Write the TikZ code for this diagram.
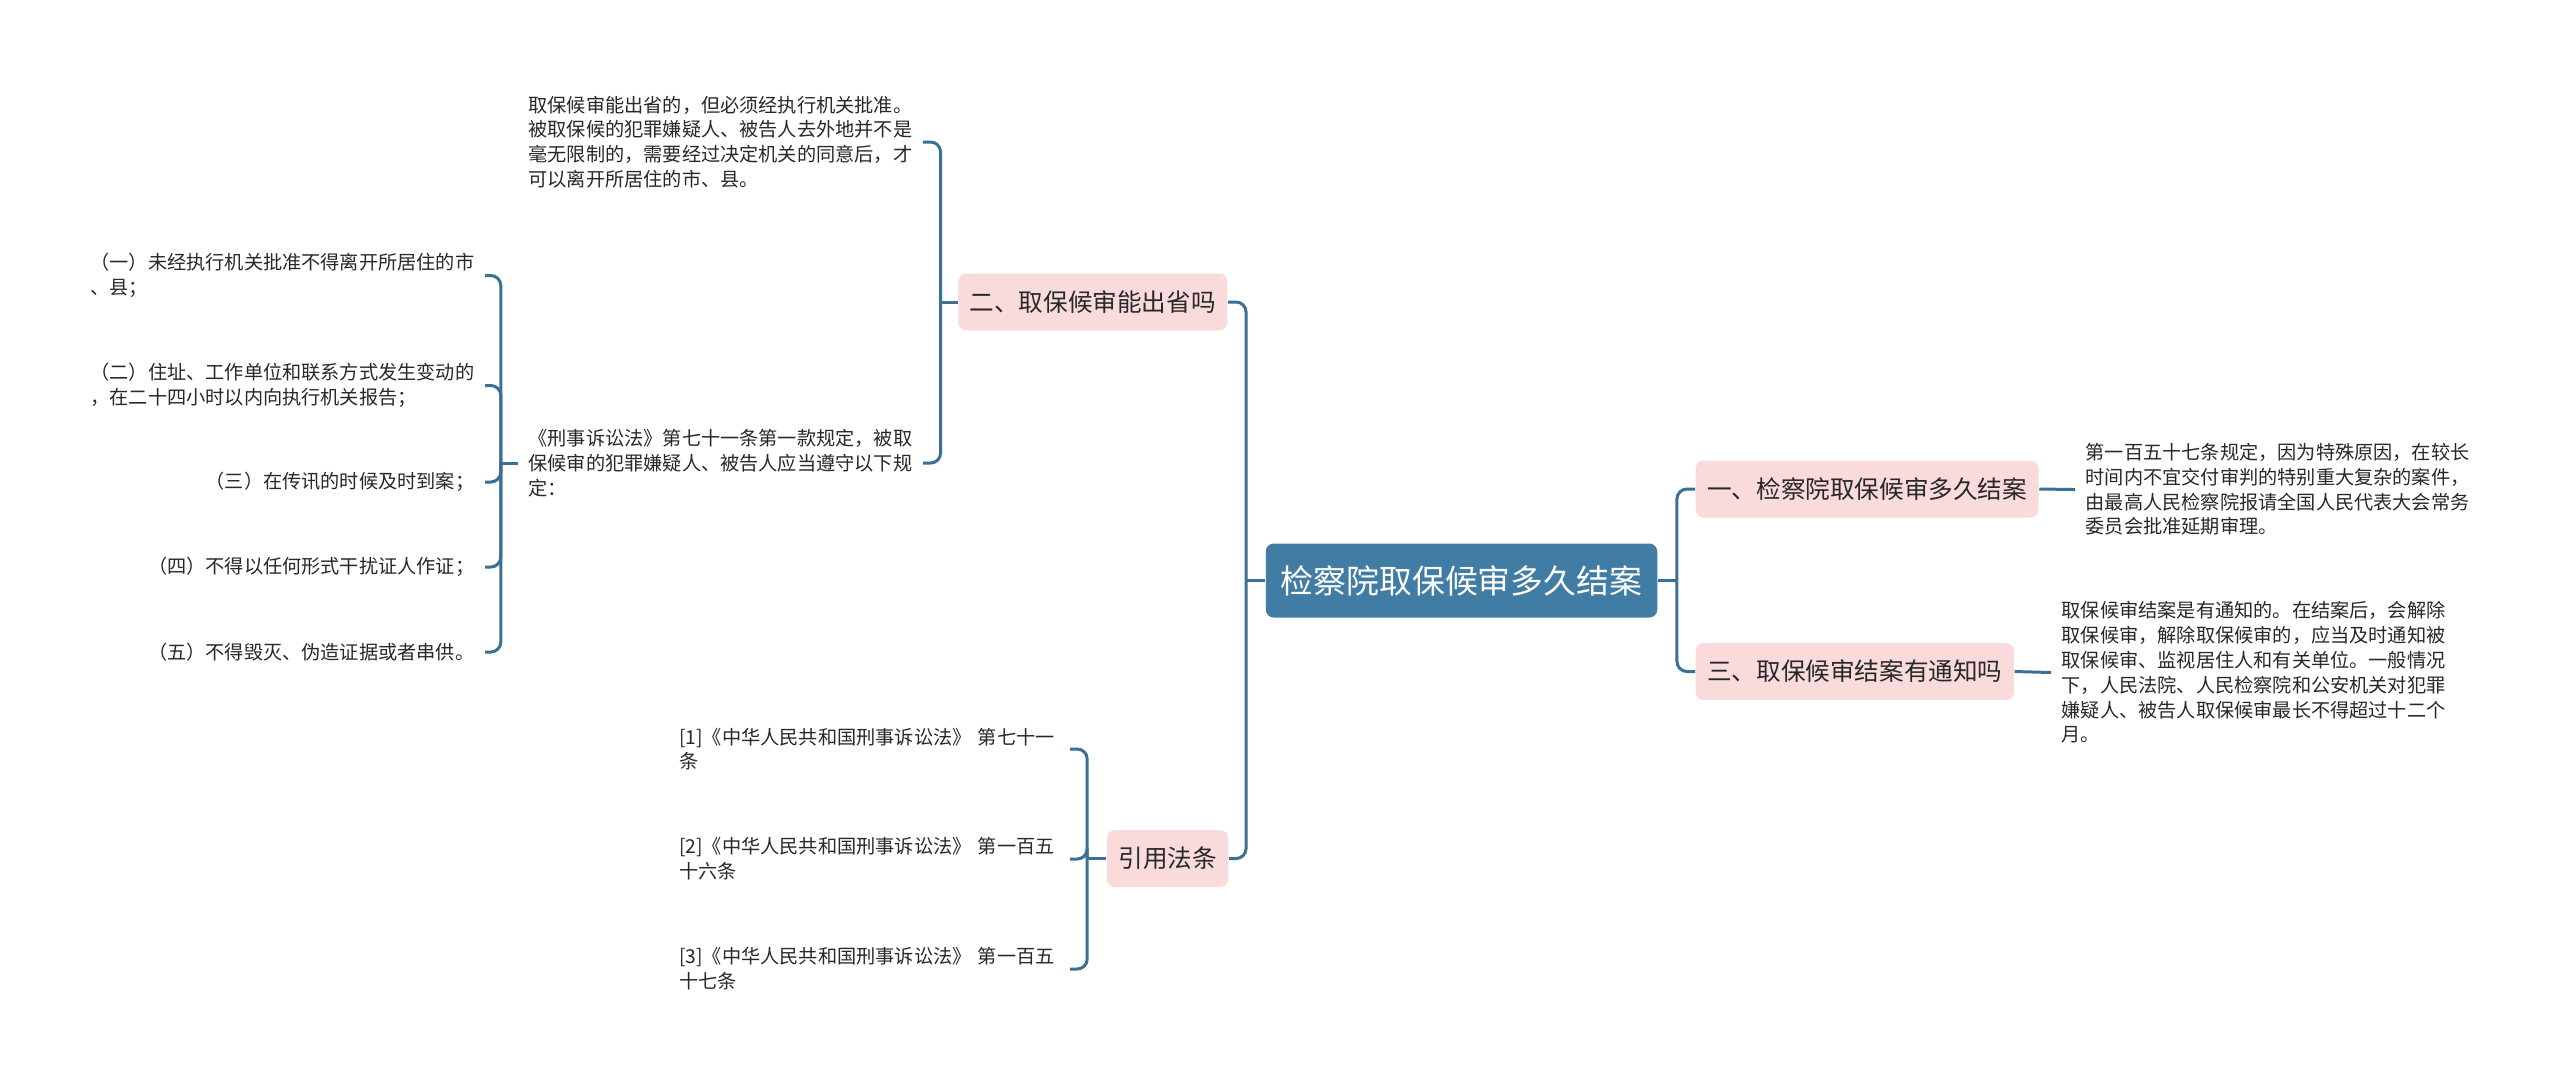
\documentclass[tikz,border=0pt]{standalone}
\usepackage{fontspec}
\setmainfont{Noto Sans CJK SC}
\usepackage{tikz}
\usetikzlibrary{positioning,backgrounds}
\definecolor{topicblue}{RGB}{64,124,164}
\definecolor{linkblue}{RGB}{58,112,150}
\definecolor{branchpink}{RGB}{249,219,219}
\definecolor{inkgray}{RGB}{40,40,40}
\newcommand{\topicfont}{\fontsize{9.35pt}{11pt}\selectfont}
\newcommand{\branchfont}{\fontsize{7.0pt}{8.4pt}\selectfont}
\newcommand{\leaffont}{\fontsize{5.46pt}{7.05pt}\selectfont}
\tikzset{
  topicbox/.style={rectangle,rounded corners=0.08cm,fill=topicblue,text=white,font=\topicfont,
                   inner xsep=0.15cm,inner ysep=0pt,minimum height=0.74cm},
  branchbox/.style={rectangle,rounded corners=0.08cm,fill=branchpink,text=inkgray,font=\branchfont,
                    inner xsep=0.115cm,inner ysep=0pt,minimum height=0.57cm},
  leafnote/.style={align=left,font=\leaffont,text=inkgray,inner xsep=0.1cm,inner ysep=0.02cm},
  link/.style={draw=linkblue,line width=0.85pt,rounded corners=0.1cm}
}

\begin{document}
\begin{tikzpicture}

  \fill[white] (0,0) rectangle (25.6,-10.84);

  \node[topicbox] (topic) at (14.615,-5.805) {检察院取保候审多久结案};

  \node[branchbox,anchor=east] (province) at (12.28,-3.02) {二、取保候审能出省吗};
  \node[branchbox,anchor=east] (cites) at (12.29,-8.585) {引用法条};
  \node[branchbox,anchor=west] (howlong) at (16.95,-4.89) {一、检察院取保候审多久结案};
  \node[branchbox,anchor=west] (notify) at (16.95,-6.715) {三、取保候审结案有通知吗};

  \node[leafnote,anchor=east] (provnote) at (9.23,-1.42)
    {取保候审能出省的，但必须经执行机关批准。\\
     被取保候的犯罪嫌疑人、被告人去外地并不是\\
     毫无限制的，需要经过决定机关的同意后，才\\
     可以离开所居住的市、县。};
  \node[leafnote,anchor=east] (rulesnote) at (9.23,-4.63)
    {《刑事诉讼法》第七十一条第一款规定，被取\\
     保候审的犯罪嫌疑人、被告人应当遵守以下规\\
     定：};

  \node[leafnote,anchor=east] (rule1) at (4.85,-2.755)
    {（一）未经执行机关批准不得离开所居住的市\\、县；};
  \node[leafnote,anchor=east] (rule2) at (4.85,-3.855)
    {（二）住址、工作单位和联系方式发生变动的\\，在二十四小时以内向执行机关报告；};
  \node[leafnote,anchor=east] (rule3) at (4.85,-4.82) {（三）在传讯的时候及时到案；};
  \node[leafnote,anchor=east] (rule4) at (4.85,-5.67) {（四）不得以任何形式干扰证人作证；};
  \node[leafnote,anchor=east] (rule5) at (4.85,-6.52) {（五）不得毁灭、伪造证据或者串供。};

  \node[leafnote,anchor=east,text width=3.8cm] (cite1) at (10.70,-7.49)
    {[1]《中华人民共和国刑事诉讼法》 第七十一\\条};
  \node[leafnote,anchor=east,text width=3.8cm] (cite2) at (10.70,-8.59)
    {[2]《中华人民共和国刑事诉讼法》 第一百五\\十六条};
  \node[leafnote,anchor=east,text width=3.8cm] (cite3) at (10.70,-9.69)
    {[3]《中华人民共和国刑事诉讼法》 第一百五\\十七条};

  \node[leafnote,anchor=west] (howlongnote) at (20.75,-4.895)
    {第一百五十七条规定，因为特殊原因，在较长\\
     时间内不宜交付审判的特别重大复杂的案件，\\
     由最高人民检察院报请全国人民代表大会常务\\
     委员会批准延期审理。};
  \node[leafnote,anchor=west] (notifynote) at (20.51,-6.725)
    {取保候审结案是有通知的。在结案后，会解除\\
     取保候审，解除取保候审的，应当及时通知被\\
     取保候审、监视居住人和有关单位。一般情况\\
     下，人民法院、人民检察院和公安机关对犯罪\\
     嫌疑人、被告人取保候审最长不得超过十二个\\
     月。};

  \path (topic.west) ++(-0.19,0) coordinate (lfork);
  \path (topic.east) ++(0.19,0) coordinate (rfork);
  \path (province.west) ++(-0.17,0) coordinate (pfork);
  \path (rulesnote.west) ++(-0.17,0) coordinate (rulefork);
  \path (cites.west) ++(-0.19,0) coordinate (cfork);

  \draw[link] (topic.west) -- (lfork);
  \draw[link] (lfork) |- (province.east);
  \draw[link] (lfork) |- (cites.east);
  \draw[link] (topic.east) -- (rfork);
  \draw[link] (rfork) |- (howlong.west);
  \draw[link] (rfork) |- (notify.west);
  \draw[link] (howlong.east) -- (howlongnote.west);
  \draw[link] (notify.east) -- (notifynote.west);
  \draw[link] (province.west) -- (pfork);
  \draw[link] (pfork) |- (provnote.east);
  \draw[link] (pfork) |- (rulesnote.east);
  \draw[link] (rulesnote.west) -- (rulefork);
  \draw[link] (rulefork) |- (rule1.east);
  \draw[link] (rulefork) |- (rule2.east);
  \draw[link] (rulefork) |- (rule3.east);
  \draw[link] (rulefork) |- (rule4.east);
  \draw[link] (rulefork) |- (rule5.east);
  \draw[link] (cites.west) -- (cfork);
  \draw[link] (cfork) |- (cite1.east);
  \draw[link] (cfork) |- (cite2.east);
  \draw[link] (cfork) |- (cite3.east);
\end{tikzpicture}
\end{document}
